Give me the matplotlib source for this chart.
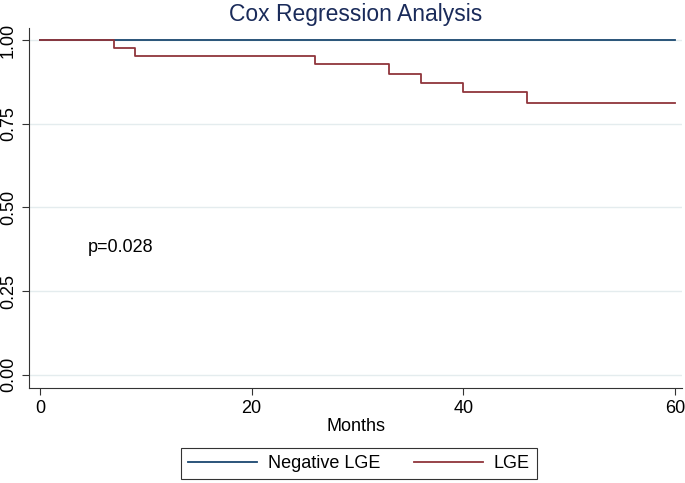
import numpy as np
import matplotlib.pyplot as plt

plt.rcParams['font.family'] = ['Liberation Sans Narrow', 'Liberation Sans', 'DejaVu Sans']

# Kaplan-Meier style step data
neg_t = [0, 60]
neg_s = [1.0, 1.0]
lge_t = [0, 7, 9, 26, 33, 36, 40, 46, 60]
lge_s = [1.0, 0.977, 0.953, 0.927, 0.900, 0.873, 0.845, 0.811, 0.811]

xticks = [0, 20, 40, 60]
yticks = [0.0, 0.25, 0.5, 0.75, 1.0]
ylabels = ["0.00", "0.25", "0.50", "0.75", "1.00"]

navy = "#1a476f"
maroon = "#90353b"

fig = plt.figure(figsize=(6.85, 4.83), dpi=100)
ax = fig.add_axes([0.042, 0.197, 0.954, 0.745])

for y in yticks:
    ax.axhline(y, color="#e4ecee", linewidth=1.0, zorder=0)

l1, = ax.step(neg_t, neg_s, where="post", color=navy, linewidth=1.3, zorder=3)
l2, = ax.step(lge_t, lge_s, where="post", color=maroon, linewidth=1.3, zorder=4)

ax.set_xlim(-1.05, 60.7)
ax.set_ylim(-0.039, 1.036)
ax.set_xticks(xticks)
ax.set_xticklabels([str(x) for x in xticks], fontsize=13)
ax.set_yticks(yticks)
ax.set_yticklabels(ylabels, fontsize=13, rotation=90, va="center")
ax.tick_params(direction="out", length=5, width=0.8, color="#333333")
ax.spines["top"].set_visible(False)
ax.spines["right"].set_visible(False)
for s in ["left", "bottom"]:
    ax.spines[s].set_color("#333333")
    ax.spines[s].set_linewidth(0.8)

ax.set_xlabel("Months", fontsize=13, labelpad=1)
ax.set_title("Cox Regression Analysis", fontsize=16.5, color="#1a2b5a", pad=5)
ax.text(4.5, 0.38, "p=0.028", fontsize=13, va="center")

leg = fig.legend([l1, l2], ["Negative LGE", "LGE"], loc="center",
                 bbox_to_anchor=(0.524, 0.040), ncol=2, fontsize=13,
                 frameon=True, fancybox=False, edgecolor="black",
                 handlelength=3.8, handletextpad=0.6, columnspacing=1.9,
                 borderpad=0.4)
leg.get_frame().set_linewidth(0.8)

fig.savefig("out.png", dpi=100)
